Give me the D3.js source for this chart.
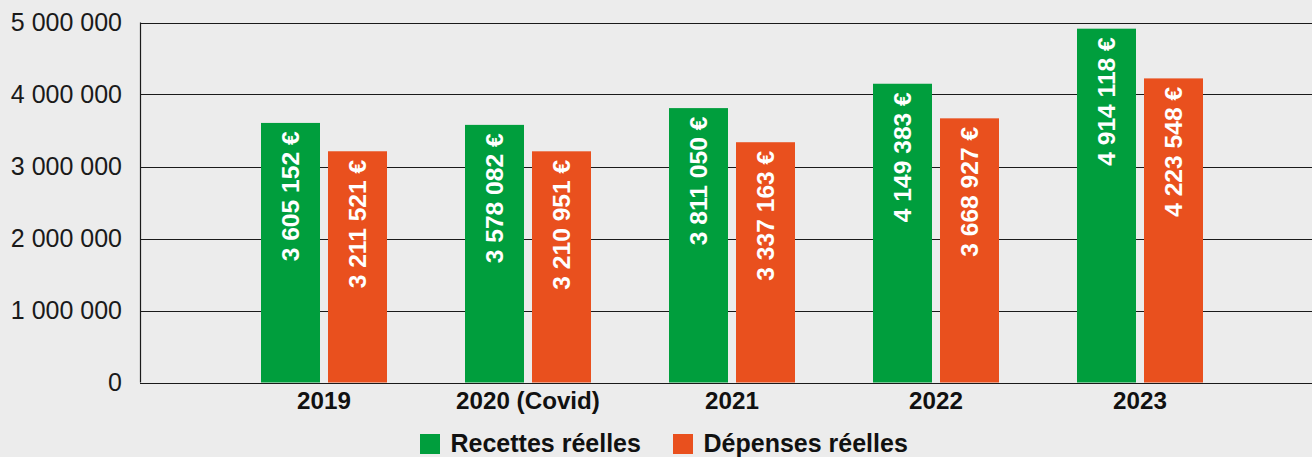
<!DOCTYPE html>
<html><head><meta charset="utf-8">
<script src="https://cdn.jsdelivr.net/npm/d3@7"></script>
<style>html,body{margin:0;padding:0;background:#ececec;}svg{display:block;}</style>
</head><body>
<svg id="chart" width="1312" height="457"></svg>
<script>
const categories = ["2019", "2020 (Covid)", "2021", "2022", "2023"];
const seriesNames = ["Recettes réelles", "Dépenses réelles"];
const recettes = [3605152, 3578082, 3811050, 4149383, 4914118];
const depenses = [3211521, 3210951, 3337163, 3668927, 4223548];
const yTicks = [0, 1000000, 2000000, 3000000, 4000000, 5000000];
const colors = ["#009e3d", "#e9501e"];

const W = 1312, H = 457;
const plot = {left: 140, right: 1312, top: 22.5, bottom: 382.5};
const font = "'Liberation Sans', Arial, Helvetica, sans-serif";
const svg = d3.select("#chart");
svg.append("rect").attr("width", W).attr("height", H).attr("fill", "#ececec");

const loc = d3.formatLocale({decimal: ",", thousands: "\u00a0", grouping: [3], currency: ["", " €"]});
const fmt = loc.format(",d");

const y = d3.scaleLinear().domain([0, 5000000]).range([plot.bottom, plot.top]);
const x0 = d3.scaleBand().domain(categories).range([222, 1242]).paddingInner(0);
const bw = x0.bandwidth();
const x1 = d3.scaleBand().domain(seriesNames).range([bw/2 - 63, bw/2 + 63]).paddingInner(8/67);
const series = [recettes, depenses];

// gridlines
svg.append("g").selectAll("line").data(yTicks).join("line")
  .attr("x1", plot.left).attr("x2", plot.right)
  .attr("y1", d => Math.round(y(d)) + 0.5).attr("y2", d => Math.round(y(d)) + 0.5)
  .attr("stroke", "#1a1a1a").attr("stroke-width", 1.2);
svg.append("line").attr("x1", plot.left + 0.5).attr("x2", plot.left + 0.5)
  .attr("y1", y(5000000)).attr("y2", y(0)).attr("stroke", "#1a1a1a").attr("stroke-width", 1.2);

// y tick labels
svg.append("g").selectAll("text").data(yTicks).join("text")
  .attr("x", 122).attr("y", d => y(d)).attr("dy", "0.35em")
  .attr("text-anchor", "end").attr("font-family", font).attr("font-size", 25)
  .attr("fill", "#1a1a1a").text(d => fmt(d));

// bars
const groups = svg.append("g").selectAll("g").data(categories).join("g")
  .attr("transform", d => `translate(${x0(d)},0)`);
seriesNames.forEach((s, si) => {
  groups.append("rect")
    .attr("x", x1(s)).attr("width", x1.bandwidth())
    .attr("y", (d, i) => y(series[si][i]))
    .attr("height", (d, i) => y(0) - y(series[si][i]))
    .attr("fill", colors[si]);
  groups.append("text")
    .attr("transform", (d, i) => `translate(${x1(s) + x1.bandwidth()/2},${y(series[si][i]) + 8.5}) rotate(-90)`)
    .attr("text-anchor", "end").attr("dy", "0.35em")
    .attr("font-family", font).attr("font-size", 24.6).attr("font-weight", "bold")
    .attr("fill", "#ffffff")
    .text((d, i) => fmt(series[si][i]) + "\u00a0€");
});

// x axis labels
svg.append("g").selectAll("text").data(categories).join("text")
  .attr("x", d => x0(d) + bw/2).attr("y", 409)
  .attr("text-anchor", "middle").attr("font-family", font).attr("font-size", 24.2)
  .attr("font-weight", "bold").attr("fill", "#111").text(d => d);

// legend
const legX = [420, 673];
const leg = svg.append("g").selectAll("g").data(seriesNames).join("g")
  .attr("transform", (d, i) => `translate(${legX[i]},434)`);
leg.append("rect").attr("width", 20).attr("height", 20).attr("fill", (d, i) => colors[i]);
leg.append("text").attr("x", 30.5).attr("y", 18).attr("font-family", font).attr("font-size", 25)
  .attr("font-weight", "bold").attr("fill", "#111").text(d => d);
</script>
</body></html>
